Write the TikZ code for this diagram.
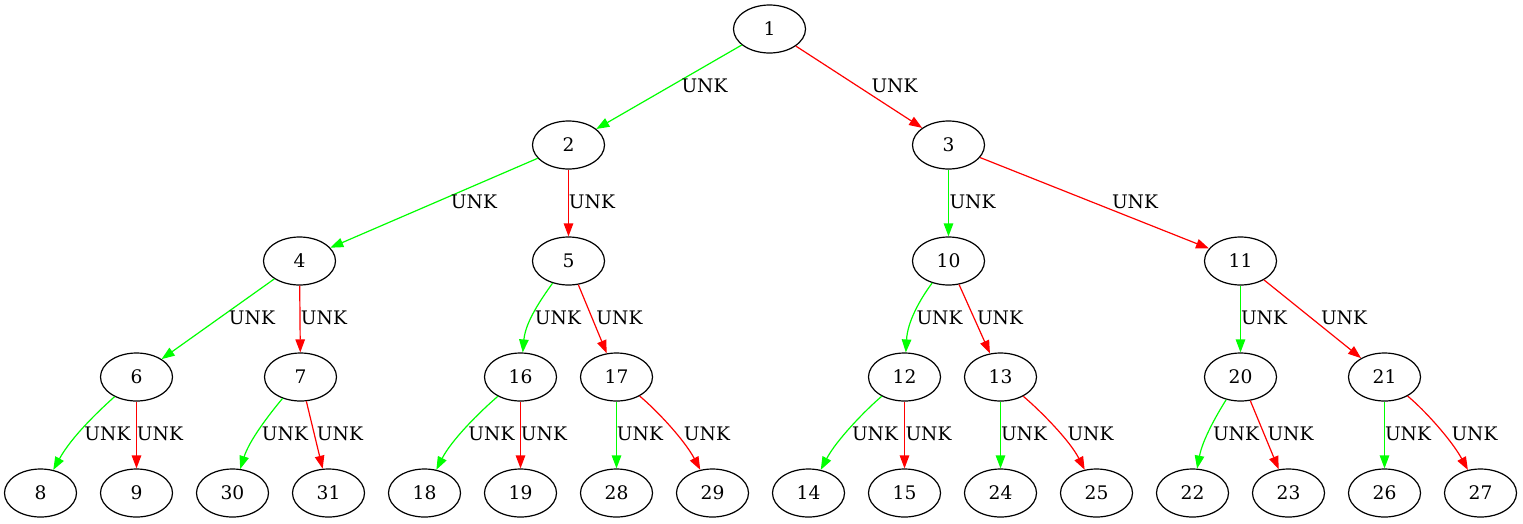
\documentclass[tikz,border=0pt]{standalone}
\usepackage{fontspec}
\setmainfont{DejaVu Serif}
\usetikzlibrary{shapes.geometric,arrows.meta}
\definecolor{egreen}{RGB}{0,255,0}
\definecolor{ered}{RGB}{255,0,0}
\tikzset{
  vertex/.style={ellipse,draw=black,line width=1.2pt,minimum width=72pt,minimum height=48pt,inner sep=0pt,
    font=\fontsize{18.67}{22}\selectfont},
  lbl/.style={inner sep=0pt,font=\fontsize{18.67}{22}\selectfont},
  edge/.style={line width=1.2pt,-{Triangle[length=13pt,width=9.5pt]}},
  yes/.style={edge,draw=egreen},
  no/.style={edge,draw=ered},
}
\begin{document}
\begin{tikzpicture}[x=1pt,y=-1pt]
% half-unit offset keeps the vertical connectors on whole pixels
\useasboundingbox (0.5,0) rectangle (1523.5,523);
% vertices, row by row
\node[vertex] (n1) at (770,29) {1};
\node[vertex] (n2) at (569,145) {2};
\node[vertex] (n3) at (949,145) {3};
\node[vertex] (n4) at (300,261) {4};
\node[vertex] (n5) at (569,261) {5};
\node[vertex] (n10) at (949,261) {10};
\node[vertex] (n11) at (1241,261) {11};
\node[vertex] (n6) at (137,377) {6};
\node[vertex] (n7) at (301,377) {7};
\node[vertex] (n16) at (521,377) {16};
\node[vertex] (n17) at (617,377) {17};
\node[vertex] (n12) at (905,377) {12};
\node[vertex] (n13) at (1001,377) {13};
\node[vertex] (n20) at (1241,377) {20};
\node[vertex] (n21) at (1385,377) {21};
\node[vertex] (n8) at (41,493) {8};
\node[vertex] (n9) at (137,493) {9};
\node[vertex] (n30) at (233,493) {30};
\node[vertex] (n31) at (329,493) {31};
\node[vertex] (n18) at (425,493) {18};
\node[vertex] (n19) at (521,493) {19};
\node[vertex] (n28) at (617,493) {28};
\node[vertex] (n29) at (713,493) {29};
\node[vertex] (n14) at (809,493) {14};
\node[vertex] (n15) at (905,493) {15};
\node[vertex] (n24) at (1001,493) {24};
\node[vertex] (n25) at (1097,493) {25};
\node[vertex] (n22) at (1193,493) {22};
\node[vertex] (n23) at (1289,493) {23};
\node[vertex] (n26) at (1385,493) {26};
\node[vertex] (n27) at (1481,493) {27};
% edges
\draw[yes] (n1) -- (n2);
\draw[no] (n1) -- (n3);
\draw[yes] (n2) -- (n4);
\draw[no] (n2) -- (n5);
\draw[yes] (n3) -- (n10);
\draw[no] (n3) -- (n11);
\draw[yes] (n4) -- (n6);
\draw[no] (n4) -- (n7);
\draw[yes] (n5) .. controls (541,300) and (526,322) .. (n16);
\draw[no] (n5) -- (n17);
\draw[yes] (n10) .. controls (920,300) and (908,322) .. (n12);
\draw[no] (n10) -- (n13);
\draw[yes] (n11) -- (n20);
\draw[no] (n11) -- (n21);
\draw[yes] (n6) .. controls (98,412) and (72,437) .. (n8);
\draw[no] (n6) -- (n9);
\draw[yes] (n7) .. controls (270,414) and (250,440) .. (n30);
\draw[no] (n7) -- (n31);
\draw[yes] (n16) .. controls (480,412) and (452,440) .. (n18);
\draw[no] (n16) -- (n19);
\draw[yes] (n17) -- (n28);
\draw[no] (n17) .. controls (657,410) and (685,440) .. (n29);
\draw[yes] (n12) .. controls (866,410) and (837,440) .. (n14);
\draw[no] (n12) -- (n15);
\draw[yes] (n13) -- (n24);
\draw[no] (n13) .. controls (1040,410) and (1070,440) .. (n25);
\draw[yes] (n20) .. controls (1217,415) and (1203,440) .. (n22);
\draw[no] (n20) -- (n23);
\draw[yes] (n21) -- (n26);
\draw[no] (n21) .. controls (1425,410) and (1452,440) .. (n27);
% edge labels
\node[lbl] (l12) at (705,86) {UNK};
\node[lbl] (l13) at (895,86) {UNK};
\node[lbl] (l24) at (474.5,202) {UNK};
\node[lbl] (l25) at (592.5,202) {UNK};
\node[lbl] (l310) at (973,202) {UNK};
\node[lbl] (l311) at (1135.5,202) {UNK};
\node[lbl] (l46) at (252.5,318) {UNK};
\node[lbl] (l47) at (324.5,318) {UNK};
\node[lbl] (l516) at (558.5,318) {UNK};
\node[lbl] (l517) at (620,318) {UNK};
\node[lbl] (l1012) at (940,318) {UNK};
\node[lbl] (l1013) at (1000.5,318) {UNK};
\node[lbl] (l1120) at (1264.5,318) {UNK};
\node[lbl] (l1121) at (1344.5,318) {UNK};
\node[lbl] (l68) at (108,434) {UNK};
\node[lbl] (l69) at (160.5,434) {UNK};
\node[lbl] (l730) at (285.5,434) {UNK};
\node[lbl] (l731) at (340.5,434) {UNK};
\node[lbl] (l1618) at (492,434) {UNK};
\node[lbl] (l1619) at (544.5,434) {UNK};
\node[lbl] (l1728) at (640.5,434) {UNK};
\node[lbl] (l1729) at (707.5,434) {UNK};
\node[lbl] (l1214) at (875.5,434) {UNK};
\node[lbl] (l1215) at (929,434) {UNK};
\node[lbl] (l1324) at (1024.5,434) {UNK};
\node[lbl] (l1325) at (1091,434) {UNK};
\node[lbl] (l2022) at (1236.5,434) {UNK};
\node[lbl] (l2023) at (1291,434) {UNK};
\node[lbl] (l2126) at (1408.5,434) {UNK};
\node[lbl] (l2127) at (1475,434) {UNK};
\end{tikzpicture}
\end{document}
